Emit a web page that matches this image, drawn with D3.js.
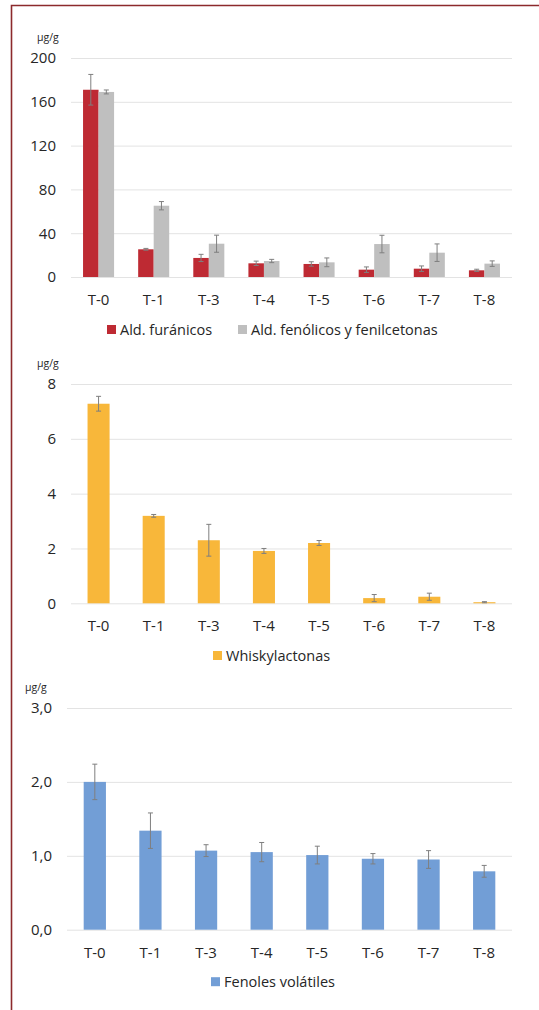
<!DOCTYPE html>
<html>
<head>
<meta charset="utf-8">
<script src="https://cdn.jsdelivr.net/npm/d3@7"></script>
<style>
  body { margin: 0; background: #fff; }
  svg text { font-family: "Open Sans", sans-serif; fill: #262626; }
</style>
</head>
<body>
<div id="chart"></div>
<script>
// categories shared by all three panels
const muestras = ["T-0", "T-1", "T-3", "T-4", "T-5", "T-6", "T-7", "T-8"];

// panel 1: aldehidos
const furanicos = [171, 25.3, 17.4, 12.5, 11.9, 6.7, 7.6, 6.1];
const furanicosErr = [14, 0.8, 3.3, 2, 2, 2.5, 2.5, 1];
const fenolicos = [169, 65.1, 30.4, 14.6, 13.4, 30.1, 22.2, 12.2];
const fenolicosErr = [1.8, 3.8, 7.8, 1.5, 4, 8, 8, 2.5];
const ticks1 = [0, 40, 80, 120, 160, 200];

// panel 2: whiskylactonas
const whisky = [7.28, 3.19, 2.30, 1.91, 2.20, 0.19, 0.24, 0.04];
const whiskyErr = [0.27, 0.05, 0.58, 0.09, 0.09, 0.13, 0.13, 0.02];
const ticks2 = [0, 2, 4, 6, 8];

// panel 3: fenoles volatiles
const fenoles = [2.0, 1.34, 1.07, 1.05, 1.01, 0.96, 0.95, 0.79];
const fenolesErr = [0.24, 0.24, 0.08, 0.13, 0.12, 0.07, 0.12, 0.08];
const ticks3 = [0, 1, 2, 3];

const W = 539, H = 1010;
const svg = d3.select("#chart").append("svg")
  .attr("width", W).attr("height", H);

// outer frame
svg.append("path")
  .attr("d", `M11.5,${H} L11.5,5.5 L${W},5.5`)
  .attr("fill", "none")
  .attr("stroke", "#8c2a2c")
  .attr("stroke-width", 1.6);

function panel(opt) {
  const x0 = d3.scaleBand()
    .domain(muestras)
    .range([opt.left, 512])
    .paddingInner(opt.pad)
    .paddingOuter(opt.pad / 2);

  const y = d3.scaleLinear()
    .domain([0, d3.max(opt.ticks)])
    .range([opt.bottom, opt.top]);

  const g = svg.append("g");

  // gridlines + y labels via axis
  const yAxis = d3.axisLeft(y)
    .tickValues(opt.ticks)
    .tickSize(-(512 - opt.left))
    .tickPadding(opt.left - opt.labelX)
    .tickFormat(opt.fmt);

  g.append("g")
    .attr("transform", `translate(${opt.left},0)`)
    .call(yAxis)
    .call(a => a.select(".domain").remove())
    .call(a => a.selectAll(".tick line").attr("stroke", "#e3e3e3").attr("stroke-width", 1))
    .call(a => a.selectAll(".tick text")
      .attr("font-size", 15)
      .attr("fill", "#262626")
      .style("font-family", "'Open Sans', sans-serif"));

  // unit label
  g.append("text")
    .attr("x", opt.unitX)
    .attr("y", opt.top - 17)
    .attr("font-size", 10.5)
    .text("µg/g");

  const x1 = d3.scaleBand()
    .domain(opt.series.map((s, i) => i))
    .range([0, x0.bandwidth()]);

  opt.series.forEach((s, si) => {
    const rows = muestras.map((m, i) => ({ m: m, v: s.values[i], e: s.err[i] }));
    const sg = g.append("g");

    sg.selectAll("rect")
      .data(rows)
      .enter()
      .append("rect")
      .attr("x", d => x0(d.m) + x1(si))
      .attr("y", d => y(d.v))
      .attr("width", x1.bandwidth())
      .attr("height", d => y(0) - y(d.v))
      .attr("fill", s.color);

    // error bars
    const eb = sg.selectAll(".err")
      .data(rows)
      .enter()
      .append("g")
      .attr("stroke", "#7f7f7f")
      .attr("stroke-width", 1);
    const cx = d => x0(d.m) + x1(si) + x1.bandwidth() / 2;
    eb.append("line")
      .attr("x1", cx).attr("x2", cx)
      .attr("y1", d => y(d.v + d.e)).attr("y2", d => y(Math.max(0, d.v - d.e)));
    eb.append("line")
      .attr("x1", d => cx(d) - 2.5).attr("x2", d => cx(d) + 2.5)
      .attr("y1", d => y(d.v + d.e)).attr("y2", d => y(d.v + d.e));
    eb.append("line")
      .attr("x1", d => cx(d) - 2.5).attr("x2", d => cx(d) + 2.5)
      .attr("y1", d => y(Math.max(0, d.v - d.e))).attr("y2", d => y(Math.max(0, d.v - d.e)));
  });

  // category labels
  g.selectAll(".cat")
    .data(muestras)
    .enter()
    .append("text")
    .attr("x", d => x0(d) + x0.bandwidth() / 2)
    .attr("y", opt.bottom + 28)
    .attr("text-anchor", "middle")
    .attr("font-size", 15)
    .text(d => d);

  // legend
  const lg = g.append("g");
  opt.legend.forEach((l, i) => {
    lg.append("rect")
      .attr("x", l.x).attr("y", opt.legendY - 4.5)
      .attr("width", 9).attr("height", 9)
      .attr("fill", opt.series[i].color);
    lg.append("text")
      .attr("x", l.x + 13)
      .attr("y", opt.legendY + 5)
      .attr("font-size", 14.5)
      .text(opt.series[i].name);
  });
}

panel({
  left: 71, top: 58, bottom: 277, pad: 0.437, labelX: 56, unitX: 37,
  ticks: ticks1, fmt: d3.format("d"),
  series: [
    { name: "Ald. furánicos", values: furanicos, err: furanicosErr, color: "#be2a33" },
    { name: "Ald. fenólicos y fenilcetonas", values: fenolicos, err: fenolicosErr, color: "#bfbfbf" }
  ],
  legend: [{ x: 107 }, { x: 238 }],
  legendY: 329.5
});

panel({
  left: 71, top: 384, bottom: 603.3, pad: 0.6, labelX: 56, unitX: 37,
  ticks: ticks2, fmt: d3.format("d"),
  series: [
    { name: "Whiskylactonas", values: whisky, err: whiskyErr, color: "#f8b73a" }
  ],
  legend: [{ x: 213 }],
  legendY: 655.5
});

panel({
  left: 67, top: 708, bottom: 929.7, pad: 0.6, labelX: 52, unitX: 25,
  ticks: ticks3, fmt: d => d3.format(".1f")(d).replace(".", ","),
  series: [
    { name: "Fenoles volátiles", values: fenoles, err: fenolesErr, color: "#729ed6" }
  ],
  legend: [{ x: 211 }],
  legendY: 981.7
});
</script>
</body>
</html>
